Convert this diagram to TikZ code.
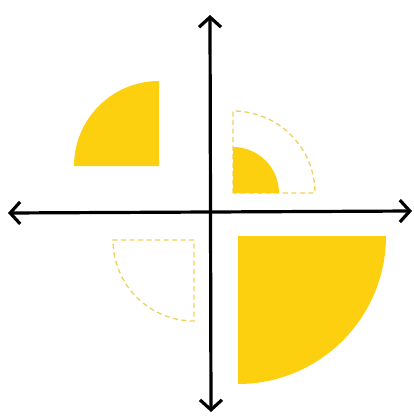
\documentclass[tikz,border=0pt]{standalone}
\usetikzlibrary{arrows.meta}
\definecolor{sun}{RGB}{252,208,14}
\definecolor{sunlight}{RGB}{240,208,90}
\begin{document}
\begin{tikzpicture}[x=1pt,y=-1pt,
  axis/.style={line width=3.2pt, line cap=round, {Straight Barb[length=10pt,width=22pt,line width=3.2pt]}-{Straight Barb[length=10pt,width=22pt,line width=3.2pt]}},
  solidq/.style={fill=sun, draw=none},
  ghostq/.style={draw=sunlight, line width=1.3pt, dash pattern=on 5pt off 3.5pt}]
\useasboundingbox (0,0) rectangle (414,416);
% quarters (y axis points down: angles measured clockwise)
\fill[solidq] (159,166) -- (159,81) arc[start angle=-90, end angle=-180, radius=85] -- cycle;
\draw[ghostq] (233,193) -- (233,111) arc[start angle=-90, end angle=0, radius=82] -- cycle;
\fill[solidq] (233,193) -- (233,147) arc[start angle=-90, end angle=0, radius=46] -- cycle;
\draw[ghostq] (194,240) -- (113,240) arc[start angle=180, end angle=90, radius=81] -- cycle;
\fill[solidq] (238,236) -- (386,236) arc[start angle=0, end angle=90, radius=148] -- cycle;
% axes
\coordinate (L) at (8,213);
\coordinate (R) at (412,211);
\coordinate (T) at (210,15);
\coordinate (B) at (211,412);
\draw[axis] (L) -- (R);
\draw[axis] (B) -- (T);
\end{tikzpicture}
\end{document}
